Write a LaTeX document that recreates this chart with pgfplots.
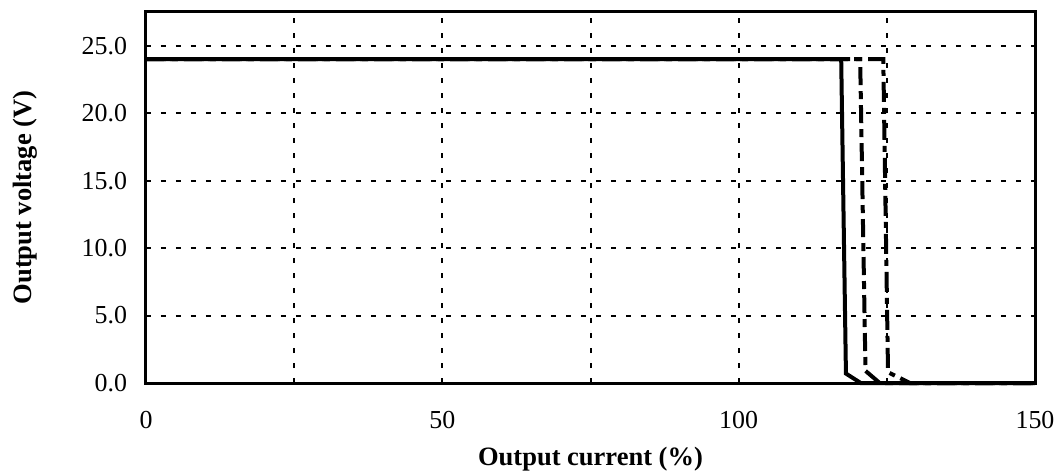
\documentclass[border=0pt]{standalone}
\usepackage{fontspec}
\setmainfont{Liberation Serif}
\usepackage{pgfplots}
\pgfplotsset{compat=1.18}
\begin{document}
\begin{tikzpicture}
\begin{axis}[
  scale only axis,
  anchor=south west, at={(0,0)},
  width=444.5bp, height=185.5bp,
  xmin=0, xmax=150, ymin=0, ymax=27.5,
  xtick={0,50,100,150},
  minor xtick={25,75,125},
  ytick={0,5,10,15,20,25},
  grid=both,
  major grid style={black, line width=1bp, dash pattern=on 2.5bp off 5bp},
  minor grid style={black, line width=1bp, dash pattern=on 2.5bp off 5bp},
  major tick length=0pt, minor tick length=0pt,
  axis line style={line width=1.5bp},
  /pgf/number format/assume math mode=true,
  yticklabel style={/pgf/number format/fixed, /pgf/number format/fixed zerofill, /pgf/number format/precision=1, anchor=east, xshift=-6bp},
  xticklabel style={yshift=-10.5bp},
  tick label style={font=\fontsize{13}{15}\selectfont},
  label style={font=\fontsize{13.3}{15}\selectfont\bfseries},
  xlabel={Output current (\%)},
  ylabel={Output voltage (V)},
  xlabel style={at={(axis description cs:0.5,-0.2049)}, anchor=center},
  ylabel style={at={(axis description cs:-0.1361,0.5)}, anchor=center},
  clip=false,
]
\addplot[black, line width=2bp, dash pattern=on 10bp off 3bp on 3bp off 3bp] coordinates {(0,24) (124.4,24) (125.2,0.8) (128.9,0) (150,0)};
\addplot[black, line width=2bp, dash pattern=on 9bp off 3bp on 4bp off 3bp] coordinates {(0,24) (120.5,24) (121.4,0.9) (123.8,0) (150,0)};
\addplot[black, line width=2bp] coordinates {(0,24) (117.3,24) (118.1,0.7) (120.6,0) (150,0)};
\end{axis}
\pgfresetboundingbox
\path (-73bp,-45bp) rectangle (457bp,191.5bp);
\end{tikzpicture}
\end{document}
